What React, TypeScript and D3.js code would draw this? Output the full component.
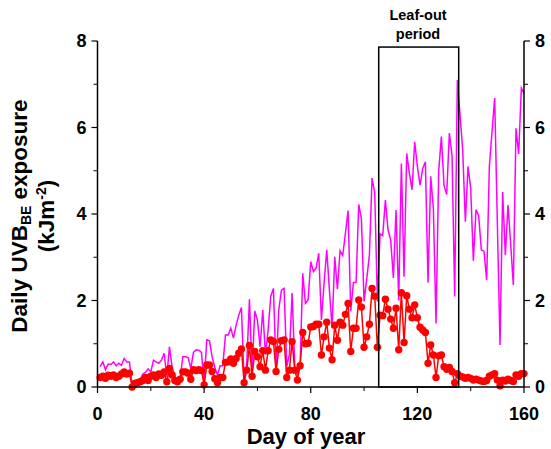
import React from "react";
import * as d3 from "d3";

const magenta: number[] = [
  0.47, 0.58, 0.40, 0.53, 0.52, 0.58, 0.49, 0.55, 0.50, 0.66,
  0.58, 0.58, 0.02, 0.15, 0.16, 0.17, 0.30, 0.34, 0.42, 0.35,
  0.62, 0.58, 0.55, 0.62, 0.78, 0.24, 0.93, 0.45, 0.25, 0.16,
  0.20, 0.70, 0.70, 0.68, 0.43, 0.80, 0.86, 0.85, 0.80, 0.08,
  1.09, 1.07, 0.70, 0.45, 0.28, 0.49, 0.49, 1.20, 1.20, 1.36,
  1.13, 1.43, 1.66, 1.84, 0.12, 0.55, 2.03, 0.35, 1.76, 1.54,
  0.93, 1.78, 0.75, 1.31, 2.10, 2.28, 0.39, 1.78, 2.24, 2.28,
  0.47, 0.76, 2.17, 0.50, 0.30, 0.47, 2.63, 1.93, 2.01, 2.90,
  2.67, 2.75, 3.09, 1.55, 2.40, 3.17, 2.24, 1.36, 3.01, 2.26,
  3.15, 3.04, 3.55, 4.08, 1.75, 2.41, 2.42, 4.22, 3.90, 1.98,
  2.50, 3.05, 4.83, 4.49, 1.98, 3.54, 3.50, 4.32, 3.63, 3.40,
  2.52, 4.09, 2.00, 5.17, 2.55, 5.40, 4.94, 4.56, 5.67, 5.10,
  4.67, 5.05, 5.21, 2.41, 4.87, 4.13, 1.47, 4.99, 5.79, 4.66,
  4.45, 5.87, 5.36, 2.09, 7.10, 6.30, 5.48, 3.82, 5.10, 4.60,
  2.92, 4.10, 3.96, 3.17, 3.14, 2.47, 5.10, 5.90, 6.68, 3.80,
  0.97, 4.51, 3.05, 4.21, 3.30, 2.36, 5.98, 5.39, 6.91, 6.79,
];

const red: number[] = [
  0.22, 0.25, 0.20, 0.27, 0.25, 0.28, 0.22, 0.25, 0.30, 0.35,
  0.30, 0.32, 0.00, 0.08, 0.10, 0.12, 0.15, 0.22, 0.15, 0.25,
  0.28, 0.22, 0.30, 0.27, 0.35, 0.12, 0.43, 0.28, 0.15, 0.12,
  0.18, 0.35, 0.35, 0.32, 0.18, 0.40, 0.38, 0.40, 0.38, 0.05,
  0.51, 0.51, 0.36, 0.19, 0.10, 0.22, 0.22, 0.57, 0.58, 0.65,
  0.55, 0.66, 0.78, 0.88, 0.10, 0.39, 0.96, 0.25, 0.82, 0.70,
  0.47, 0.84, 0.39, 0.84, 1.09, 1.05, 0.36, 0.87, 1.07, 1.09,
  0.22, 0.39, 1.05, 0.39, 0.16, 0.49, 1.26, 1.00, 1.01, 1.39,
  1.40, 1.45, 1.45, 0.74, 1.16, 1.50, 0.90, 0.63, 1.43, 1.08,
  1.50, 1.43, 1.68, 1.93, 0.82, 1.36, 1.36, 2.01, 1.85, 0.92,
  1.16, 1.45, 2.28, 2.10, 0.92, 1.66, 1.65, 2.03, 1.80, 1.57,
  1.36, 1.82, 0.86, 2.18, 1.03, 2.11, 1.80, 1.60, 1.90, 1.60,
  1.38, 1.32, 1.26, 0.55, 0.97, 0.74, 0.22, 0.72, 0.74, 0.47,
  0.41, 0.45, 0.36, 0.10, 0.31, 0.25, 0.23, 0.20, 0.22, 0.20,
  0.16, 0.18, 0.16, 0.14, 0.13, 0.15, 0.25, 0.28, 0.31, 0.16,
  0.03, 0.16, 0.14, 0.18, 0.15, 0.13, 0.28, 0.25, 0.31, 0.31,
];

const days: number[] = magenta.map((_, i) => i + 1);
const xMajorTicks: number[] = [0, 40, 80, 120, 160];
const xMinorTicks: number[] = [20, 60, 100, 140];
const yMajorTicks: number[] = [0, 2, 4, 6, 8];
const yMinorTicks: number[] = [1, 3, 5, 7];
const leafOut: number[] = [105.5, 135.5];
const leafOutTop = 7.86;

const FONT = "'Liberation Sans', Arial, sans-serif";

export default function App() {
  const x = d3.scaleLinear().domain([0, 160]).range([97.5, 524]);
  const y = d3.scaleLinear().domain([0, 8]).range([387, 41]);

  const line = d3
    .line<number>()
    .x((_, i) => x(days[i]))
    .y((d) => y(d));

  const x0 = x(0);
  const x1 = x(160);
  const y0 = y(0);
  const yTop = y(8);

  return (
    <svg
      width={551}
      height={449}
      style={{ position: "absolute", left: 0, top: 0, background: "#fff" }}
      fontFamily={FONT}
    >
      <rect x={0} y={0} width={551} height={449} fill="#fff" />
      <path d={line(magenta) || ""} fill="none" stroke="#ff00ff" strokeWidth={1.5} />
      <path d={line(red) || ""} fill="none" stroke="#ff0000" strokeWidth={1.5} />
      {red.map((v, i) => (
        <circle key={i} cx={x(days[i])} cy={y(v)} r={3.7} fill="#ff0000" />
      ))}

      <rect
        x={x(leafOut[0])}
        y={y(leafOutTop)}
        width={x(leafOut[1]) - x(leafOut[0])}
        height={y(0) - y(leafOutTop)}
        fill="none"
        stroke="#000"
        strokeWidth={1.5}
      />
      <text x={418} y={20} textAnchor="middle" fontSize={14.5} fontWeight="bold">
        Leaf-out
      </text>
      <text x={418} y={39} textAnchor="middle" fontSize={14.5} fontWeight="bold">
        period
      </text>

      <line x1={x0} x2={x0} y1={yTop} y2={y0} stroke="#000" strokeWidth={1.5} />
      <line x1={x1} x2={x1} y1={yTop} y2={y0} stroke="#000" strokeWidth={1.5} />
      <line x1={x0} x2={x1} y1={y0} y2={y0} stroke="#000" strokeWidth={1.5} />

      {yMajorTicks.map((t) => (
        <g key={"ym" + t}>
          <line x1={x0 - 6} x2={x0} y1={y(t)} y2={y(t)} stroke="#000" strokeWidth={1.2} />
          <line x1={x1} x2={x1 + 6} y1={y(t)} y2={y(t)} stroke="#000" strokeWidth={1.2} />
          <text x={x0 - 11} y={y(t) + 6} textAnchor="end" fontSize={18} fontWeight="bold">
            {t}
          </text>
          <text x={x1 + 11} y={y(t) + 6} textAnchor="start" fontSize={18} fontWeight="bold">
            {t}
          </text>
        </g>
      ))}
      {yMinorTicks.map((t) => (
        <g key={"yn" + t}>
          <line x1={x0 - 4} x2={x0} y1={y(t)} y2={y(t)} stroke="#000" strokeWidth={1} />
          <line x1={x1} x2={x1 + 4} y1={y(t)} y2={y(t)} stroke="#000" strokeWidth={1} />
        </g>
      ))}
      {xMajorTicks.map((t) => (
        <g key={"xm" + t}>
          <line x1={x(t)} x2={x(t)} y1={y0} y2={y0 + 6} stroke="#000" strokeWidth={1.2} />
          <text x={x(t)} y={420} textAnchor="middle" fontSize={18} fontWeight="bold">
            {t}
          </text>
        </g>
      ))}
      {xMinorTicks.map((t) => (
        <line key={"xn" + t} x1={x(t)} x2={x(t)} y1={y0} y2={y0 + 4} stroke="#000" strokeWidth={1} />
      ))}

      <text x={306} y={444} textAnchor="middle" fontSize={22} fontWeight="bold">
        Day of year
      </text>
      <g transform="translate(27,216) rotate(-90)">
        <text x={0} y={0} textAnchor="middle" fontSize={22.5} fontWeight="bold">
          Daily UVB
          <tspan fontSize={14} dy={4}>BE</tspan>
          <tspan dy={-4}> exposure</tspan>
        </text>
      </g>
      <g transform="translate(54,216) rotate(-90)">
        <text x={0} y={0} textAnchor="middle" fontSize={22.5} fontWeight="bold">
          (kJm
          <tspan fontSize={14} dy={-8}>-2</tspan>
          <tspan dy={8}>)</tspan>
        </text>
      </g>
    </svg>
  );
}
